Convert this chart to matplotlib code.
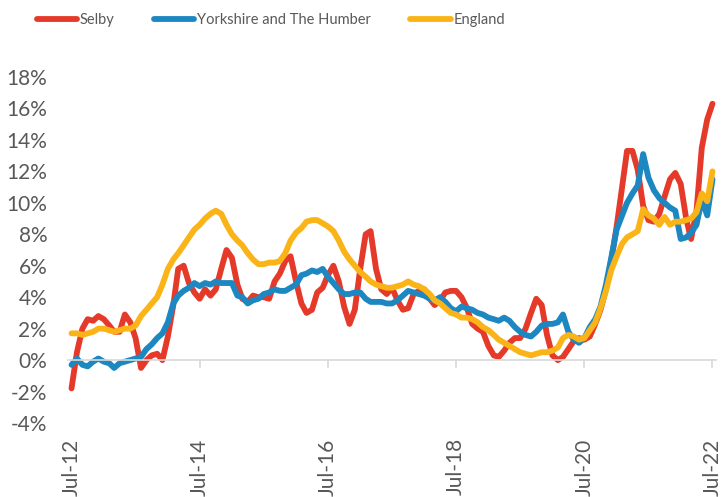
import numpy as np
import pandas as pd
import matplotlib
matplotlib.use('Agg')
from matplotlib import pyplot as plt
import matplotlib.dates as mdates

months = pd.date_range('2012-07-01', periods=121, freq='MS')

selby = [-1.8, 0.5, 2.0, 2.6, 2.5, 2.8, 2.6, 2.2, 1.8, 1.8, 2.9, 2.4, 1.4, -0.5, 0.0, 0.3, 0.4, 0.0, 1.5, 3.5,
         5.8, 6.0, 4.9, 4.3, 3.9, 4.5, 4.1, 4.5, 5.8, 7.0, 6.5, 4.8, 3.9, 3.7, 4.1, 4.0, 4.0, 3.9, 5.0, 5.5,
         6.3, 6.6, 5.0, 3.6, 3.0, 3.2, 4.3, 4.6, 5.4, 6.0, 5.0, 3.4, 2.3, 3.2, 5.8, 8.0, 8.2, 5.8, 4.5, 4.2,
         4.6, 3.8, 3.2, 3.3, 4.2, 4.4, 4.5, 3.9, 3.5, 3.8, 4.3, 4.4, 4.4, 4.0, 3.3, 2.3, 2.0, 1.8, 0.9, 0.3,
         0.2, 0.6, 1.1, 1.4, 1.4, 2.0, 3.0, 3.9, 3.5, 1.6, 0.3, 0.0, 0.2, 0.7, 1.2, 1.4, 1.3, 1.5, 2.3, 3.2,
         4.5, 6.3, 8.5, 11.0, 13.3, 13.3, 12.1, 9.8, 8.9, 8.8, 9.3, 10.4, 11.5, 11.9, 11.2, 9.0, 7.7, 9.5, 13.5, 15.3,
         16.3]

yorkshire = [-0.3, 0.1, -0.3, -0.4, -0.1, 0.1, -0.1, -0.2, -0.5, -0.2, -0.1, 0.0, 0.1, 0.2, 0.7, 1.0, 1.4, 1.7, 2.4, 3.6,
             4.1, 4.4, 4.6, 4.9, 4.7, 4.9, 4.8, 5.0, 4.9, 4.9, 4.9, 4.1, 4.0, 3.6, 3.8, 3.9, 4.2, 4.3, 4.5, 4.4,
             4.4, 4.6, 4.8, 5.4, 5.5, 5.7, 5.6, 5.8, 5.3, 4.9, 4.5, 4.2, 4.2, 4.3, 4.3, 3.9, 3.7, 3.7, 3.7, 3.6,
             3.6, 3.8, 4.1, 4.4, 4.3, 4.2, 4.1, 3.9, 3.8, 4.0, 3.7, 3.3, 3.1, 3.4, 3.3, 3.2, 3.0, 2.9, 2.7, 2.6,
             2.5, 2.7, 2.5, 2.1, 1.8, 1.6, 1.5, 1.8, 2.2, 2.3, 2.3, 2.4, 2.9, 1.8, 1.3, 1.1, 1.4, 2.1, 2.6, 3.4,
             4.8, 6.5, 8.3, 9.2, 10.0, 10.6, 11.1, 13.1, 11.6, 10.8, 10.3, 10.0, 9.7, 9.5, 7.7, 7.8, 8.1, 8.6, 10.2, 9.2,
             11.5]

england = [1.7, 1.7, 1.6, 1.7, 1.8, 2.0, 2.0, 1.9, 1.8, 1.9, 2.0, 2.0, 2.2, 2.8, 3.2, 3.6, 4.0, 4.8, 5.8, 6.4,
           6.8, 7.3, 7.8, 8.3, 8.6, 9.0, 9.3, 9.5, 9.3, 8.6, 8.0, 7.6, 7.3, 6.8, 6.4, 6.1, 6.1, 6.2, 6.2, 6.3,
           6.8, 7.6, 8.1, 8.4, 8.8, 8.9, 8.9, 8.7, 8.5, 8.2, 7.6, 6.9, 6.4, 6.0, 5.6, 5.3, 5.0, 4.8, 4.7, 4.6,
           4.6, 4.7, 4.8, 5.0, 4.8, 4.7, 4.5, 4.2, 3.8, 3.6, 3.3, 3.0, 2.9, 2.7, 2.7, 2.6, 2.4, 2.1, 1.9, 1.6,
           1.3, 1.1, 0.9, 0.7, 0.5, 0.4, 0.3, 0.4, 0.5, 0.5, 0.6, 0.8, 1.4, 1.6, 1.5, 1.3, 1.4, 1.9, 2.4, 3.3,
           4.4, 5.7, 6.6, 7.4, 7.8, 8.0, 8.2, 9.6, 9.2, 9.0, 8.6, 9.1, 8.6, 8.8, 8.8, 8.9, 9.0, 9.4, 10.6, 10.1,
           12.0]

tick_dates = pd.date_range('2012-07-01', '2022-07-01', freq='24MS')
tick_labels = [d.strftime('%b-%y') for d in tick_dates]
y_ticks = list(range(-4, 19, 2))

plt.rcParams['font.family'] = ['Lato', 'DejaVu Sans']
grey = '#595959'

fig = plt.figure(figsize=(7.23, 4.97), dpi=100)
ax = fig.add_axes([68 / 723, 1 - 423 / 497, (716 - 68) / 723, (423 - 77) / 497])

lw = 4.2
ax.plot(months, selby, color='#E5392A', lw=lw, solid_capstyle='round', solid_joinstyle='round', label='Selby')
ax.plot(months, yorkshire, color='#1D87C1', lw=lw, solid_capstyle='round', solid_joinstyle='round', label='Yorkshire and The Humber')
ax.plot(months, england, color='#FBB417', lw=lw, solid_capstyle='round', solid_joinstyle='round', label='England')

ax.set_ylim(-4, 18)
ax.set_xlim(months[0] - pd.Timedelta(days=20), months[-1] + pd.Timedelta(days=20))
ax.set_yticks(y_ticks)
ax.set_yticklabels([f'{v}%' for v in y_ticks])
ax.tick_params(axis='y', length=0, labelsize=15, labelcolor=grey, pad=15)

for s in ['top', 'right', 'left']:
    ax.spines[s].set_visible(False)
ax.spines['bottom'].set_position(('data', 0))
ax.spines['bottom'].set_color('#d9d9d9')
ax.spines['bottom'].set_linewidth(1.2)
ax.set_xticks(tick_dates)
ax.set_xticklabels([])
ax.tick_params(axis='x', direction='out', length=6, width=1.2, color='#d9d9d9')

sec = ax.secondary_xaxis('bottom')
sec.set_xticks(tick_dates)
sec.set_xticklabels(tick_labels, rotation=90)
sec.tick_params(length=0, labelsize=15, labelcolor=grey, pad=11)
sec.spines['bottom'].set_visible(False)

fig.legend(loc='center left', bbox_to_anchor=(37 / 723, 1 - 20 / 497), ncol=3, frameon=False,
           fontsize=10.5, labelcolor=grey,
           handlelength=2.75, handletextpad=0.2, columnspacing=2.7,
           borderpad=0, borderaxespad=0)

fig.savefig('out.png', dpi=100)
